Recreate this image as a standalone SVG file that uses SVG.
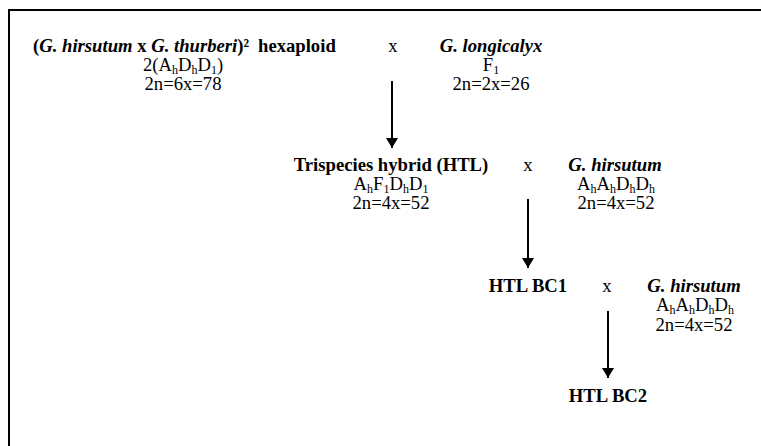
<svg xmlns="http://www.w3.org/2000/svg" width="761" height="446" viewBox="0 0 761 446">
<style>
text{font-family:"Liberation Serif","Times New Roman",serif;font-size:18.67px;fill:#000}
.b{font-weight:bold}
.bi{font-weight:bold;font-style:italic}
.s{font-size:12px}
.c{stroke:#000;stroke-width:2;fill:none}
</style>
<defs>
<marker id="ah" viewBox="0 0 10 12" refX="10" refY="6" markerWidth="10" markerHeight="12" markerUnits="userSpaceOnUse" orient="auto">
<path d="M0,0 L10,6 L0,12 Z" fill="#000"/>
</marker>
</defs>
<rect width="761" height="446" fill="#fff"/>
<path class="c" d="M9,446 V10 H761"/>
<g id="connectors">
<line class="c" x1="392" y1="81" x2="392" y2="148" marker-end="url(#ah)"/>
<line class="c" x1="528" y1="199" x2="528" y2="268" marker-end="url(#ah)"/>
<line class="c" x1="608" y1="311" x2="608" y2="378" marker-end="url(#ah)"/>
</g>
<g id="hexaploid">
<text x="33" y="52" class="b">(<tspan class="bi">G. hirsutum</tspan> x <tspan class="bi">G. thurberi</tspan>)²<tspan x="258">hexaploid</tspan></text>
<text x="183" y="71" text-anchor="middle">2(A<tspan class="s" dy="3">h</tspan><tspan dy="-3">D</tspan><tspan class="s" dy="3">h</tspan><tspan dy="-3">D</tspan><tspan class="s" dy="3">1</tspan><tspan dy="-3">)</tspan></text>
<text x="183" y="90" text-anchor="middle">2n=6x=78</text>
</g>
<g id="cross1"><text x="393" y="52" text-anchor="middle">x</text></g>
<g id="longicalyx">
<text x="491" y="52" text-anchor="middle" class="bi">G. longicalyx</text>
<text x="491" y="71" text-anchor="middle">F<tspan class="s" dy="3">1</tspan></text>
<text x="491" y="90" text-anchor="middle">2n=2x=26</text>
</g>
<g id="htl">
<text x="391" y="171" text-anchor="middle" class="b">Trispecies hybrid (HTL)</text>
<text x="391" y="190" text-anchor="middle">A<tspan class="s" dy="3">h</tspan><tspan dy="-3">F</tspan><tspan class="s" dy="3">1</tspan><tspan dy="-3">D</tspan><tspan class="s" dy="3">h</tspan><tspan dy="-3">D</tspan><tspan class="s" dy="3">1</tspan></text>
<text x="391" y="209" text-anchor="middle">2n=4x=52</text>
</g>
<g id="cross2"><text x="528" y="171" text-anchor="middle">x</text></g>
<g id="hirsutum1">
<text x="615" y="171" text-anchor="middle" class="bi">G. hirsutum</text>
<text x="616" y="190" text-anchor="middle">A<tspan class="s" dy="3">h</tspan><tspan dy="-3">A</tspan><tspan class="s" dy="3">h</tspan><tspan dy="-3">D</tspan><tspan class="s" dy="3">h</tspan><tspan dy="-3">D</tspan><tspan class="s" dy="3">h</tspan></text>
<text x="616" y="209" text-anchor="middle">2n=4x=52</text>
</g>
<g id="bc1"><text x="528" y="292" text-anchor="middle" class="b">HTL BC1</text></g>
<g id="cross3"><text x="607" y="292" text-anchor="middle">x</text></g>
<g id="hirsutum2">
<text x="694" y="292" text-anchor="middle" class="bi">G. hirsutum</text>
<text x="695" y="311" text-anchor="middle">A<tspan class="s" dy="3">h</tspan><tspan dy="-3">A</tspan><tspan class="s" dy="3">h</tspan><tspan dy="-3">D</tspan><tspan class="s" dy="3">h</tspan><tspan dy="-3">D</tspan><tspan class="s" dy="3">h</tspan></text>
<text x="694" y="331" text-anchor="middle">2n=4x=52</text>
</g>
<g id="bc2"><text x="608" y="402" text-anchor="middle" class="b">HTL BC2</text></g>
</svg>
